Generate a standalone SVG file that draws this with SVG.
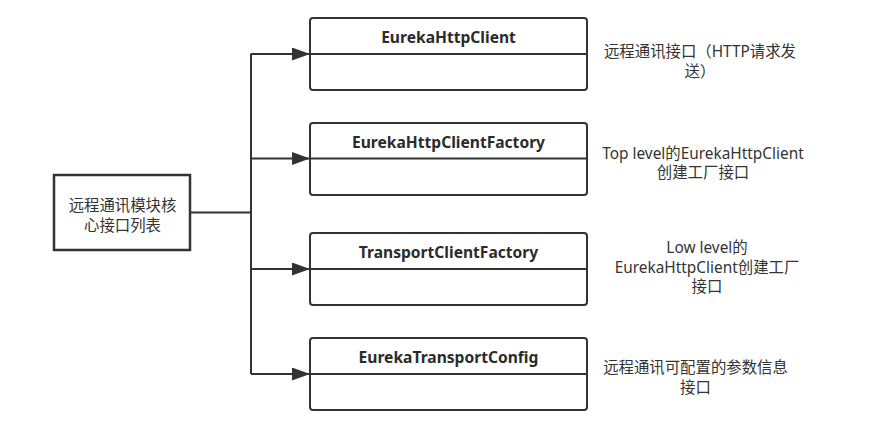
<svg xmlns="http://www.w3.org/2000/svg" width="887" height="424" viewBox="0 0 887 424">
<defs>
<marker id="arr" markerUnits="userSpaceOnUse" markerWidth="20" markerHeight="14" refX="18" refY="6.5" orient="auto">
<path d="M0,0 L18,6.5 L0,13 Z" fill="#333"/>
</marker>
<style>
.box{fill:#fff;stroke:#333;stroke-width:2}
.div{stroke:#333;stroke-width:2}
.title{font-family:"Noto Sans","Open Sans","Noto Sans CJK SC",sans-serif;font-weight:bold;font-size:15.6px;fill:#2b2b2b;text-anchor:middle}
.lbl{font-family:"Noto Sans","Noto Sans CJK SC",sans-serif;font-size:15.4px;fill:#333;text-anchor:middle}
.conn{fill:none;stroke:#333;stroke-width:2}
</style>
</defs>
<rect width="887" height="424" fill="#fff"/>
<g id="connectors">
<path class="conn" d="M190,212.5 H251" stroke-width="3.2"/>
<path class="conn" d="M251,53.5 V374"/>
<path class="conn" d="M251,54 H310" marker-end="url(#arr)"/>
<path class="conn" d="M251,158.5 H310" marker-end="url(#arr)"/>
<path class="conn" d="M251,269 H310" marker-end="url(#arr)"/>
<path class="conn" d="M251,374 H310" marker-end="url(#arr)"/>
</g>
<g id="root">
<rect x="54" y="175" width="136" height="75" fill="#fff" stroke="#333" stroke-width="2.5"/>
<text class="lbl" x="122.5" y="211">远程通讯模块核</text>
<text class="lbl" x="122.5" y="230.5">心接口列表</text>
</g>
<g id="EurekaHttpClient">
<rect class="box" x="310" y="18" width="277" height="72" rx="3"/>
<line class="div" x1="310" y1="54" x2="587" y2="54"/>
<text class="title" x="448.5" y="42.5">EurekaHttpClient</text>
</g>
<g id="EurekaHttpClientFactory">
<rect class="box" x="310" y="123" width="277" height="72" rx="3"/>
<line class="div" x1="310" y1="158.5" x2="587" y2="158.5"/>
<text class="title" x="448.5" y="147.5">EurekaHttpClientFactory</text>
</g>
<g id="TransportClientFactory">
<rect class="box" x="310" y="233" width="277" height="72" rx="3"/>
<line class="div" x1="310" y1="269" x2="587" y2="269"/>
<text class="title" x="448.5" y="257.5">TransportClientFactory</text>
</g>
<g id="EurekaTransportConfig">
<rect class="box" x="310" y="338" width="277" height="72" rx="3"/>
<line class="div" x1="310" y1="374" x2="587" y2="374"/>
<text class="title" x="448.5" y="362.5">EurekaTransportConfig</text>
</g>
<g id="note1">
<text class="lbl" x="700" y="57">远程通讯接口（HTTP请求发</text>
<text class="lbl" x="700" y="76.5">送）</text>
</g>
<g id="note2">
<text class="lbl" x="703" y="158.5">Top level的EurekaHttpClient</text>
<text class="lbl" x="703" y="178">创建工厂接口</text>
</g>
<g id="note3">
<text class="lbl" x="707" y="253">Low level的</text>
<text class="lbl" x="707" y="272.5">EurekaHttpClient创建工厂</text>
<text class="lbl" x="707" y="292">接口</text>
</g>
<g id="note4">
<text class="lbl" x="695.5" y="373">远程通讯可配置的参数信息</text>
<text class="lbl" x="695.5" y="392.5">接口</text>
</g>
</svg>
